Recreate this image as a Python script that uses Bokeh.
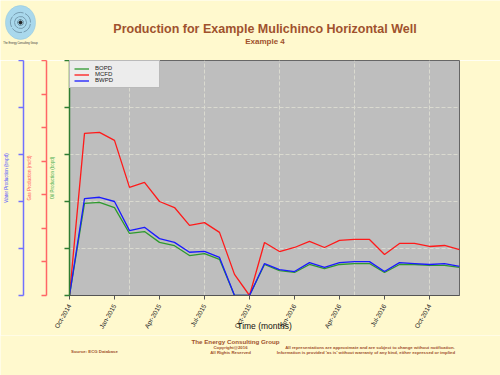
import math
from bokeh.plotting import figure
from bokeh.layouts import column, row
from bokeh.models import (Range1d, LinearAxis, FixedTicker, Legend, LegendItem)
from bokeh.core.properties import value
from bokeh.embed import file_html
from bokeh.resources import INLINE

# ---- data (monthly, starting Oct-2014) ----
months = list(range(27))
bopd = [0, 196, 198, 187, 132, 136, 113, 106, 85, 89, 77, 0, 0, 66, 53, 49, 66, 57, 66, 68, 68, 49, 66, 66, 64, 64, 60]
mcfd = [0, 483, 486, 462, 322, 337, 280, 262, 209, 217, 188, 63, 0, 158, 131, 143, 161, 143, 164, 167, 167, 122, 155, 155, 146, 149, 137]
bwpd = [0, 206, 209, 200, 138, 145, 121, 113, 92, 94, 81, 0, 0, 68, 55, 51, 70, 60, 70, 72, 72, 51, 70, 68, 66, 68, 62]
tick_pos = [0, 3, 6, 9, 12, 15, 18, 21, 24]
tick_labels = ["Oct-2014", "Jan-2015", "Apr-2015", "Jul-2015", "Oct-2015", "Jan-2016", "Apr-2016", "Jul-2016", "Oct-2014"]
vgrid_pos = [4, 9, 14, 19, 24]
oil_ticks = [0, 100, 200, 300, 400, 500]
gas_ticks = [0, 100, 200, 300, 400, 500, 600, 700]
water_ticks = [0, 100, 200, 300, 400, 500]

title_text = "Production for Example Mulichinco Horizontal Well"
subtitle_text = "Example 4"
company = "The Energy Consulting Group"
footer_left = "Source: ECG Database"
footer_mid = ["Copyright@2016", "All Rights Reserved"]
footer_right = ["All representations are approximate and are subject to change without notification.",
                "Information is provided 'as is' without warranty of any kind, either expressed or implied"]

BG = "#FFF9CE"
BROWN = "#A0522D"
FONT = "Liberation Sans"


def blank_fig(h, y0, y1):
    f = figure(width=500, height=h, output_backend="svg", toolbar_location=None,
               x_range=Range1d(0, 500), y_range=Range1d(y1, y0),
               x_axis_type=None, y_axis_type=None,
               background_fill_color=BG, border_fill_color=BG,
               min_border_left=0, min_border_right=0, min_border_top=0, min_border_bottom=0)
    f.outline_line_color = None
    f.xgrid.visible = False
    f.ygrid.visible = False
    return f


def txt(f, x, y, text, size, color=BROWN, bold=True, align="center"):
    f.text(x=[x], y=[y], text=[text], text_font=value(FONT),
           text_font_size=value(size), text_color=color,
           text_font_style="bold" if bold else "normal",
           text_align=align, text_baseline="middle")


# ---- header ----
head = blank_fig(60, 0, 60)
head.ellipse(x=[20], y=[22], width=30, height=34, fill_color="#A9D8EC", line_color="#8FC4DC", line_width=0.5)
for a0 in (0.0, 1.26, 2.51, 3.77, 5.03):
    head.arc(x=[20], y=[22], radius=10, start_angle=a0, end_angle=a0 + 1.1,
             line_color="#56758A", line_width=0.6)
    head.arc(x=[20], y=[22], radius=6, start_angle=a0 + 0.6, end_angle=a0 + 1.8,
             line_color="#56758A", line_width=0.6)
    head.arc(x=[20], y=[22], radius=3, start_angle=a0 + 1.2, end_angle=a0 + 2.3,
             line_color="#3F5A6C", line_width=0.6)
head.scatter(x=[20], y=[22], size=3, color="#222222")
txt(head, 20, 43, company, "2.6px", color="#333333", bold=False)
txt(head, 264.5, 28, title_text, "12.5px")
txt(head, 264.5, 41, subtitle_text, "8px")

# ---- main plot ----
p = figure(width=500, height=275, output_backend="svg", toolbar_location=None,
           x_range=Range1d(0, 26), y_range=Range1d(0, 500),
           background_fill_color="#BEBEBE", border_fill_color=BG,
           min_border_left=69, min_border_right=41, min_border_top=0, min_border_bottom=40)
p.outline_line_color = "#666666"
p.extra_y_ranges = {"gas": Range1d(0, 700), "water": Range1d(0, 500)}

for g, t in ((p.xgrid, vgrid_pos), (p.ygrid, oil_ticks)):
    g.ticker = FixedTicker(ticks=t)
    g.grid_line_color = "#DADAD0"
    g.grid_line_dash = "4 2"
    g.grid_line_width = 1

xa = p.xaxis[0]
xa.ticker = FixedTicker(ticks=tick_pos)
xa.major_label_overrides = {k: v for k, v in zip(tick_pos, tick_labels)}
xa.major_label_orientation = math.pi / 3
xa.major_label_text_font_size = "6.5px"
xa.major_label_text_font = FONT
xa.major_label_text_color = "#222222"
xa.axis_line_color = "#555555"
xa.major_tick_line_color = "#555555"
xa.major_tick_out = 4
xa.major_tick_in = 0
xa.minor_tick_line_color = None
xa.axis_label = "Time (months)"
xa.axis_label_text_font = FONT
xa.axis_label_text_font_size = "8.5px"
xa.axis_label_text_font_style = "normal"
xa.axis_label_text_color = "#111111"
xa.axis_label_standoff = -13


def style_y(ax, color, lblcolor, label):
    ax.axis_line_color = color
    ax.axis_line_width = 1.5
    ax.major_tick_line_color = color
    ax.major_tick_line_width = 1.5
    ax.major_tick_out = 5
    ax.major_tick_in = 0
    ax.minor_tick_line_color = None
    ax.major_label_text_font_size = "1px"
    ax.major_label_text_color = None
    ax.major_label_standoff = 0
    ax.axis_label = label
    ax.axis_label_text_font = FONT
    ax.axis_label_text_font_size = "4.5px"
    ax.axis_label_text_font_style = "normal"
    ax.axis_label_text_color = lblcolor
    ax.axis_label_standoff = 10


oil_ax = p.yaxis[0]
oil_ax.ticker = FixedTicker(ticks=oil_ticks)
style_y(oil_ax, "#2E7D32", "#4CAF50", "Oil Production (bopd)")
gas_ax = LinearAxis(y_range_name="gas", ticker=FixedTicker(ticks=gas_ticks))
style_y(gas_ax, "#FF6666", "#FF5555", "Gas Production (mcfd)")
p.add_layout(gas_ax, "left")
water_ax = LinearAxis(y_range_name="water", ticker=FixedTicker(ticks=water_ticks))
style_y(water_ax, "#7070FF", "#5555FF", "Water Production (bwpd)")
p.add_layout(water_ax, "left")

r_oil = p.line(months, bopd, line_color="#2E9A2E", line_width=1.3)
r_gas = p.line(months, mcfd, line_color="#FF1A1A", line_width=1.3, y_range_name="gas")
r_wat = p.line(months, bwpd, line_color="#1A1AFF", line_width=1.3, y_range_name="water")

legend = Legend(items=[LegendItem(label="BOPD", renderers=[r_oil]),
                       LegendItem(label="MCFD", renderers=[r_gas]),
                       LegendItem(label="BWPD", renderers=[r_wat])],
                location="top_left", margin=0, padding=4, spacing=0,
                label_text_font_size="6px", label_text_font=FONT, label_text_color="#222222",
                label_height=5, glyph_height=5, glyph_width=15, label_standoff=6, label_width=60,
                background_fill_color="#ECECEC", background_fill_alpha=1,
                border_line_color="#888888")
p.add_layout(legend, "center")

# ---- footer ----
foot = blank_fig(40, 335, 375)
txt(foot, 235, 341, company, "6.2px")
txt(foot, 230, 347, footer_mid[0], "4.3px")
txt(foot, 230, 352, footer_mid[1], "4.3px")
txt(foot, 94, 351, footer_left, "4.3px")
txt(foot, 369.5, 347, footer_right[0], "4.3px")
txt(foot, 365.5, 352, footer_right[1], "4.3px")

layout = column(row(head), p, row(foot), spacing=0)
open("out.html", "w").write(file_html(layout, INLINE))
